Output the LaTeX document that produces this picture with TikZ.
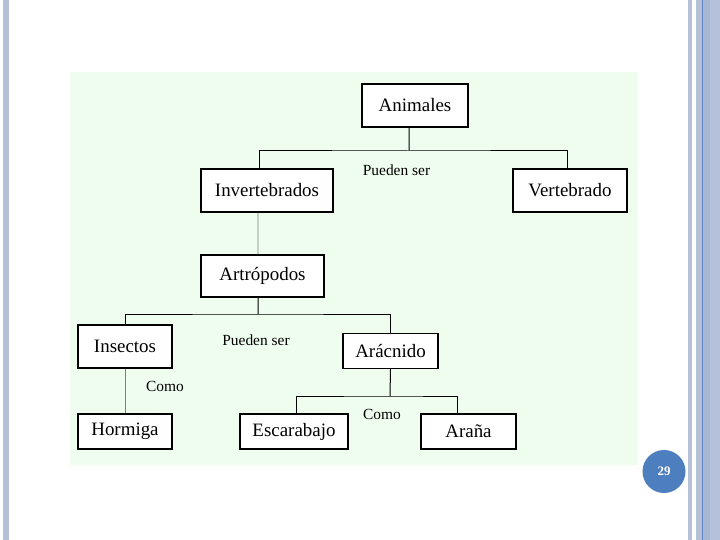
\documentclass[tikz,border=0pt]{standalone}
\usepackage{fontspec}
\setmainfont{Liberation Serif}
\definecolor{slidegreen}{HTML}{EFFDEF}
\definecolor{barblue}{HTML}{B4C1D8}
\definecolor{barmid}{HTML}{A7B7D2}
\definecolor{barline}{HTML}{5F86C0}
\definecolor{pageblue}{HTML}{4D7EBD}

\begin{document}
\begin{tikzpicture}[x=1bp, y=-1bp,
    box/.style={rectangle, draw, line width=1.2bp, fill=white, inner sep=0pt,
                minimum height=43bp, font=\fontsize{19}{22}\selectfont},
    lowbox/.style={box, minimum height=35bp},
    lbl/.style={font=\fontsize{15.5}{18}\selectfont, inner sep=0pt},
    link/.style={line width=1bp},
    greylink/.style={line width=0.8bp, color=gray},
    pagemark/.style={circle, fill=pageblue, minimum size=43bp, inner sep=0pt,
                     text=white, font=\fontsize{13}{15}\selectfont\bfseries},
]

% ============== slide frame ==============
\useasboundingbox (0,0) rectangle (720,540);
\fill[white] (0,0) rectangle (720,540);
\fill[barblue] (3,0) rectangle (9,540);
\fill[barblue] (688,0) rectangle (692,540);
\fill[barblue] (696,0) rectangle (720,540);
\fill[barmid] (703,0) rectangle (710,540);
\fill[barline] (701.7,0) rectangle (703,540);
\fill[slidegreen] (70,72) rectangle (638,465);

% ============== boxes ==============
\node[box, minimum width=106bp] (animales) at (415,105.5) {Animales};
\node[box, minimum width=132bp] (invert) at (267,190.5) {Invertebrados};
\node[box, minimum width=114bp] (vert) at (570,190.5) {Vertebrado};
\node[box, minimum width=123bp, minimum height=42bp] (artro) at (262.5,276) {Artrópodos};
\node[box, minimum width=94bp] (insectos) at (125,346.5) {Insectos};
\node[lowbox, minimum width=95bp] (aracnido) at (390.5,351) {Arácnido};
\node[lowbox, minimum width=94bp] (hormiga) at (125,431.5) {Hormiga};
\node[lowbox, minimum width=108bp] (escarabajo) at (294,431.5) {Escarabajo};
\node[lowbox, minimum width=95bp] (arana) at (468.5,431.5) {Araña};

% ============== labels ==============
\node[lbl] (pueden1) at (396.5,170) {Pueden ser};
\node[lbl] (pueden2) at (256,340) {Pueden ser};
\node[lbl] (como1) at (165,386.5) {Como};
\node[lbl] (como2) at (382,414) {Como};

% ============== connectors ==============
\coordinate (b1) at (409,151);
\coordinate (b2) at (258,314);
\coordinate (b3) at (390,396);

\draw[link] ([xshift=-6bp]animales.south) -- (b1);
\draw[link] ([xshift=-8bp]invert.north) |- (b1) -| ([xshift=-3bp]vert.north);
\draw[greylink] ([xshift=-9bp]invert.south) -- ([xshift=-4.5bp]artro.north);

\draw[link] ([xshift=-4.5bp]artro.south) -- (b2);
\draw[link] (insectos.north) |- (b2) -| (aracnido.north);
\draw[greylink] (insectos) -- (hormiga);

\draw[link] (aracnido.south) -- (b3);
\draw[link] ([xshift=2bp]escarabajo.north) |- (b3) -| ([xshift=-11.5bp]arana.north);

% ============== page number ==============
\node[pagemark] (pagenum) at (664,471.5) {29};

\end{tikzpicture}
\end{document}
